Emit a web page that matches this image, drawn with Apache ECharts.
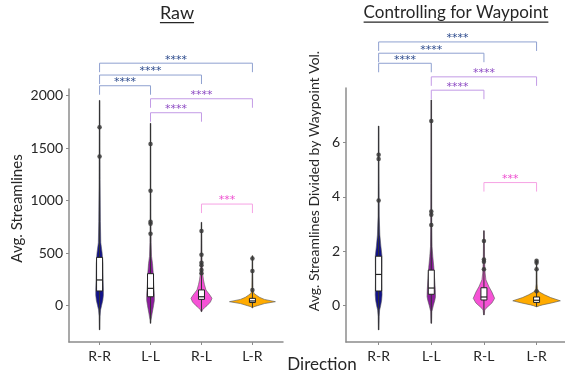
<!DOCTYPE html>
<html>
<head>
<meta charset="utf-8">
<script src="https://cdn.jsdelivr.net/npm/echarts@6/dist/echarts.min.js"></script>
<style>
html, body { margin: 0; padding: 0; background: #fff; }
#chart { width: 565px; height: 379px; }
</style>
</head>
<body>
<div id="chart"></div>
<script>
const directions = ['R-R', 'L-L', 'R-L', 'L-R']
const violinColors = ['#12128a', '#8c1c9c', '#f652d6', '#ffab00']
const bracketColors = [
  { line: '#8fa1d0', star: '#2c4a8c' },
  { line: '#c39be6', star: '#8e4cc4' },
  { line: '#f6a3e4', star: '#ee4fd0' }
]

// ---- Raw panel ----
const rawTicks = [0, 500, 1000, 1500, 2000]
const rawRange = [[-230, 1955], [-168, 1737], [-57, 794], [-20, 476]]
const rawBox = [[140, 245, 460], [85, 165, 305], [60, 85, 150], [30, 45, 70]]
const rawOutliers = [[1700, 1420], [1540, 1095, 800, 780, 685], [712, 485, 410, 385, 340, 310], [450, 330, 150]]
// [value, half width in category units]
const rawDensity = [
  [[-230, .006], [-100, .010], [-40, .020], [0, .039], [50, .063], [100, .075], [150, .075], [250, .069], [400, .065], [500, .051], [600, .024], [800, .016], [1200, .010], [1955, .006]],
  [[-168, .006], [-137, .010], [-80, .029], [0, .059], [50, .075], [100, .075], [200, .063], [300, .055], [400, .039], [470, .020], [600, .012], [900, .008], [1737, .006]],
  [[-57, .006], [-40, .020], [-20, .059], [0, .108], [35, .176], [70, .206], [100, .167], [150, .088], [200, .059], [245, .039], [300, .024], [400, .012], [794, .006]],
  [[-20, .006], [-10, .029], [0, .098], [20, .235], [38, .451], [60, .235], [80, .137], [100, .078], [118, .029], [150, .012], [300, .008], [476, .006]]
]
// [from, to, level, colour group]
const rawBrackets = [[0, 3, 2310, 0], [0, 2, 2197, 0], [0, 1, 2095, 0], [1, 3, 1971, 1], [1, 2, 1838, 1], [2, 3, 968, 2]]
const rawStars = ['****', '****', '****', '****', '****', '***']

// ---- Controlling for Waypoint panel ----
const volTicks = [0, 2, 4, 6]
const volRange = [[-0.89, 6.61], [-0.65, 7.57], [-0.34, 2.76], [-0.04, 1.68]]
const volBox = [[0.54, 1.15, 1.82], [0.42, 0.65, 1.31], [0.21, 0.32, 0.66], [0.12, 0.2, 0.32]]
const volOutliers = [[5.55, 5.4, 3.87], [6.8, 3.47, 3.35, 2.97], [2.38, 1.7, 1.62, 1.34], [1.65, 1.58, 1.34, 0.53]]
const volDensity = [
  [[-0.89, .006], [-0.4, .010], [-0.16, .019], [0, .038], [0.2, .057], [0.4, .065], [0.6, .063], [1.0, .061], [1.5, .063], [1.84, .063], [2.2, .042], [2.6, .023], [3.3, .011], [4.5, .008], [6.61, .006]],
  [[-0.65, .006], [-0.22, .011], [0, .038], [0.2, .067], [0.33, .080], [0.6, .076], [1.0, .063], [1.4, .049], [1.8, .029], [2.17, .015], [3, .010], [4.5, .008], [7.57, .006]],
  [[-0.34, .006], [-0.16, .015], [-0.1, .038], [0, .095], [0.1, .152], [0.27, .203], [0.5, .152], [0.7, .095], [0.95, .038], [1.2, .023], [1.6, .013], [2.76, .006]],
  [[-0.04, .006], [0, .057], [0.03, .114], [0.1, .285], [0.18, .452], [0.3, .266], [0.4, .152], [0.5, .057], [0.58, .019], [0.8, .010], [1.68, .006]]
]
const volBrackets = [[0, 3, 9.705, 0], [0, 2, 9.29, 0], [0, 1, 8.92, 0], [1, 3, 8.42, 1], [1, 2, 7.93, 1], [2, 3, 4.53, 2]]
const volStars = ['****', '****', '****', '****', '****', '***']

const FONT = 'Lato'
const chart = echarts.init(document.getElementById('chart'))

function violinItem(density) {
  return function (params, api) {
    const i = api.value(0)
    const prof = density[i]
    const right = prof.map(([v, w]) => api.coord([i + w, v]))
    const left = prof.slice().reverse().map(([v, w]) => api.coord([i - w, v]))
    const lo = api.coord([i, api.value(1)])
    const hi = api.coord([i, api.value(2)])
    return {
      type: 'group',
      children: [
        { type: 'polygon', shape: { points: right.concat(left) }, style: { fill: violinColors[i], stroke: '#555', lineWidth: 0.6 } },
        { type: 'line', shape: { x1: lo[0], y1: lo[1], x2: hi[0], y2: hi[1] }, style: { stroke: '#333', lineWidth: 1 } }
      ]
    }
  }
}

function boxItem(params, api) {
  const i = api.value(0)
  const q1 = api.coord([i, api.value(1)])
  const med = api.coord([i, api.value(2)])
  const q3 = api.coord([i, api.value(3)])
  const hw = 3
  return {
    type: 'group',
    children: [
      { type: 'rect', shape: { x: q1[0] - hw, y: q3[1], width: hw * 2, height: q1[1] - q3[1] }, style: { fill: '#fff', stroke: '#222', lineWidth: 1 } },
      { type: 'line', shape: { x1: med[0] - hw, y1: med[1], x2: med[0] + hw, y2: med[1] }, style: { stroke: '#222', lineWidth: 1.2 } }
    ]
  }
}

function bracketItem(stars) {
  return function (params, api) {
    const a = api.coord([api.value(0), api.value(2)])
    const b = api.coord([api.value(1), api.value(2)])
    const c = bracketColors[api.value(3)]
    const drop = 9
    return {
      type: 'group',
      children: [
        { type: 'polyline', shape: { points: [[a[0], a[1] + drop], [a[0], a[1]], [b[0], b[1]], [b[0], b[1] + drop]] }, style: { stroke: c.line, lineWidth: 1, fill: null } },
        {
          type: 'text', x: (a[0] + b[0]) / 2, y: a[1] + 2,
          style: { text: stars[params.dataIndex], fill: c.star, font: '11px "DejaVu Sans"', align: 'center', verticalAlign: 'bottom', textAlign: 'center', textVerticalAlign: 'bottom' }
        }
      ]
    }
  }
}

function panelSeries(idx, range, box, outliers, density, brackets, stars) {
  return [
    {
      type: 'custom', xAxisIndex: idx, yAxisIndex: idx, clip: false, silent: true,
      renderItem: violinItem(density),
      encode: { x: 0, y: [1, 2] },
      data: range.map((r, i) => [i, r[0], r[1]])
    },
    {
      type: 'custom', xAxisIndex: idx, yAxisIndex: idx, clip: false, silent: true,
      renderItem: boxItem,
      encode: { x: 0, y: [1, 2, 3] },
      data: box.map((b, i) => [i, b[0], b[1], b[2]])
    },
    {
      type: 'scatter', xAxisIndex: idx, yAxisIndex: idx, silent: true,
      symbolSize: 4.5,
      itemStyle: { color: '#383838', opacity: 0.85 },
      data: outliers.flatMap((vals, i) => vals.map(v => [i, v]))
    },
    {
      type: 'custom', xAxisIndex: idx, yAxisIndex: idx, clip: false, silent: true,
      renderItem: bracketItem(stars),
      encode: { x: [0, 1], y: 2 },
      data: brackets
    }
  ]
}

const axisLine = { onZero: false, lineStyle: { color: '#8c8c8c', width: 1.5 } }
const tickStyle = { lineStyle: { color: '#8c8c8c', width: 1 }, length: 3 }
const labelStyle = { color: '#262626', fontSize: 14, fontFamily: FONT }

function xAxis(gridIndex, min, max) {
  return {
    type: 'value', gridIndex, min, max,
    axisLine: { show: true, ...axisLine },
    axisTick: { show: true, ...tickStyle, customValues: [0, 1, 2, 3] },
    axisLabel: { ...labelStyle, margin: 7, customValues: [0, 1, 2, 3], formatter: v => directions[Math.round(v)] },
    splitLine: { show: false }
  }
}

function yAxis(gridIndex, min, max, ticks, name, gap, pad, size) {
  return {
    type: 'value', gridIndex, min, max,
    name, nameLocation: 'middle', nameGap: gap, nameRotate: 90,
    nameTextStyle: { color: '#262626', fontSize: size, fontFamily: FONT, padding: [0, 0, 0, pad] },
    axisLine: { show: true, ...axisLine },
    axisTick: { show: true, ...tickStyle, customValues: ticks },
    axisLabel: { ...labelStyle, margin: 6, customValues: ticks, formatter: v => String(v) },
    splitLine: { show: false }
  }
}

const measure = document.createElement('canvas').getContext('2d')
function titleWithUnderline(text, cx, cy, size) {
  measure.font = size + 'px ' + FONT
  const w = measure.measureText(text).width
  return [
    { type: 'text', x: cx, y: cy, style: { text, fill: '#262626', font: size + 'px ' + FONT, align: 'center', verticalAlign: 'middle' } },
    { type: 'rect', shape: { x: cx - w / 2, y: cy + size * 0.5, width: w, height: 1.3 }, style: { fill: '#262626' } }
  ]
}

chart.setOption({
  animation: false,
  grid: [
    { left: 69, top: 89, width: 214, height: 253 },
    { left: 346, top: 88, width: 219, height: 254 }
  ],
  xAxis: [xAxis(0, -0.6, 3.6), xAxis(1, -0.62, 3.54)],
  yAxis: [
    yAxis(0, -346, 2064, rawTicks, 'Avg. Streamlines', 44, 14, 15),
    yAxis(1, -1.336, 8.01, volTicks, 'Avg. Streamlines Divided by Waypoint Vol.', 25, 68, 14)
  ],
  graphic: [
    ...titleWithUnderline('Raw', 177, 13, 18),
    ...titleWithUnderline('Controlling for Waypoint', 456, 13, 17),
    { type: 'text', x: 322, y: 365, style: { text: 'Direction', fill: '#262626', font: '17px ' + FONT, align: 'center', verticalAlign: 'middle' } }
  ],
  series: [
    ...panelSeries(0, rawRange, rawBox, rawOutliers, rawDensity, rawBrackets, rawStars),
    ...panelSeries(1, volRange, volBox, volOutliers, volDensity, volBrackets, volStars)
  ]
})
</script>
</body>
</html>
